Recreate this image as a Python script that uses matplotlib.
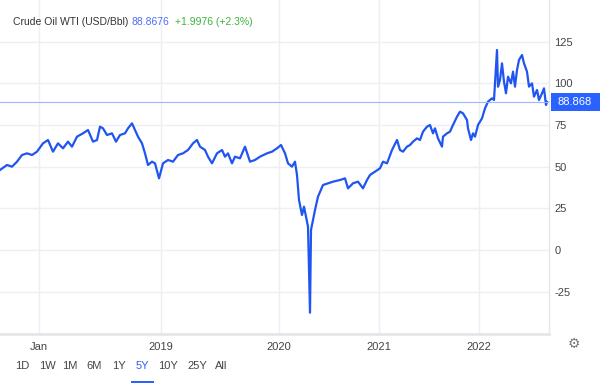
import matplotlib.pyplot as plt
import matplotlib.patches as patches

# Price series (x in chart session units, y in USD/Bbl)
x_vals = [0, 7, 12, 17, 22, 27, 32, 37, 43, 48, 53, 58, 63, 68, 72, 77, 83, 88, 93, 97,
          100, 103, 107, 112, 116, 120, 125, 128, 132, 135, 138, 142, 145, 148, 152, 155,
          159, 163, 168, 173, 178, 183, 188, 193, 197, 200, 205, 208, 212, 217, 222, 225,
          228, 232, 235, 240, 245, 250, 255, 260, 267, 272, 277, 281, 285, 288, 292, 295,
          297, 299, 302, 304, 306, 308, 310, 311, 313, 315, 318, 323, 328, 333, 340, 345,
          348, 353, 358, 363, 367, 370, 375, 380, 383, 387, 392, 397, 400, 403, 407, 410,
          413, 417, 420, 423, 427, 430, 433, 435, 438, 442, 443, 447, 450, 453, 457, 460,
          463, 467, 468, 471, 473, 475, 478, 482, 485, 488, 492, 494, 497, 498, 500, 502,
          504, 506, 508, 511, 513, 515, 517, 519, 522, 524, 527, 529, 532, 534, 537, 539,
          542, 544, 546, 547]
prices = [48, 51, 50, 53, 57, 58, 57, 59, 64, 66, 59, 64, 61, 65, 62, 68, 70, 72, 65, 66,
          74, 73, 69, 70, 65, 69, 70, 73, 76, 72, 68, 64, 58, 51, 53, 52,
          43, 52, 54, 53, 57, 58, 60, 64, 66, 62, 60, 56, 52, 58, 60, 56,
          58, 52, 56, 55, 62, 53, 54, 56, 58, 59, 61, 63, 58, 52, 50, 53,
          45, 30, 21, 26, 20, 14, -37.6, 12, 18, 24, 32, 39, 40, 41, 42, 43,
          37, 40, 41, 37, 42, 45, 47, 49, 53, 52, 60, 66, 60, 59, 62, 63,
          65, 67, 66, 71, 74, 75, 70, 73, 67, 62, 68, 70, 71, 75, 80, 83,
          82, 78, 73, 66, 70, 68, 75, 79, 85, 89, 91, 90, 120, 98, 102, 112,
          101, 94, 104, 100, 107, 98, 108, 114, 117, 112, 107, 98, 100, 92, 96, 90,
          94, 97, 87, 88.868]

tick_pos = [39, 161, 279, 379, 479]
tick_labels = ['Jan', '2019', '2020', '2021', '2022']
y_ticks = [-25, 0, 25, 50, 75, 100, 125]
last_price = 88.868
ranges = ['1D', '1W', '1M', '6M', '1Y', '5Y', '10Y', '25Y', 'All']

plt.rcParams['font.family'] = ['Liberation Sans', 'DejaVu Sans']

fig = plt.figure(figsize=(6, 3.83), dpi=100)
ax = fig.add_axes([0, 1 - 334 / 383, 549 / 600, 334 / 383])

ax.plot(x_vals, prices, color='#1f55f0', linewidth=1.6, solid_joinstyle='round')
ax.axhline(last_price, color='#9fb6ff', linewidth=0.8)

ax.set_xlim(0, 549)
ax.set_ylim(-50.4, 150)
ax.set_xticks(tick_pos, tick_labels)
ax.set_yticks(y_ticks, [str(v) for v in y_ticks])
ax.yaxis.tick_right()
ax.tick_params(axis='both', length=0, labelsize=8, labelcolor='#444444')
ax.tick_params(axis='x', pad=6)
ax.tick_params(axis='y', pad=4)
ax.grid(True, color='#eceff3', linewidth=1.0)
ax.set_axisbelow(True)
for side in ['top', 'left']:
    ax.spines[side].set_visible(False)
ax.spines['bottom'].set_color('#e4e6ea')
ax.spines['bottom'].set_linewidth(2)
ax.spines['right'].set_color('#e4e6ea')
ax.spines['right'].set_linewidth(1)

# last price tag
tag_y = ax.transData.transform((0, last_price))[1] / fig.bbox.height
fig.patches.append(patches.Rectangle((551 / 600, tag_y - 9 / 383), 49 / 600, 18 / 383,
                                     transform=fig.transFigure, facecolor='#2962ff',
                                     edgecolor='none'))
fig.text(575 / 600, tag_y, f'{last_price:.3f}', color='white', fontsize=8,
         ha='center', va='center')

# header
fig.text(13 / 600, 1 - 22 / 383, 'Crude Oil WTI (USD/Bbl)', color='#333333', fontsize=7.5,
         va='center')
fig.text(132 / 600, 1 - 22 / 383, '88.8676', color='#4f6ef7', fontsize=7.5, va='center')
fig.text(175 / 600, 1 - 22 / 383, '+1.9976 (+2.3%)', color='#3bb33b', fontsize=7.5,
         va='center')

# range selector
range_x = [22, 47, 70, 94, 119, 142, 168, 197, 221]
for lbl, px in zip(ranges, range_x):
    fig.text(px / 600, 1 - 366 / 383, lbl, fontsize=8, ha='center', va='center',
             color='#2962ff' if lbl == '5Y' else '#444444')
fig.patches.append(patches.Rectangle((131 / 600, 0), 23 / 600, 2 / 383,
                                     transform=fig.transFigure, facecolor='#2962ff',
                                     edgecolor='none'))
fig.text(574 / 600, 1 - 344 / 383, '\u2699', family='DejaVu Sans', fontsize=10,
         color='#777777', ha='center', va='center')

fig.savefig('out.png', dpi=100)
